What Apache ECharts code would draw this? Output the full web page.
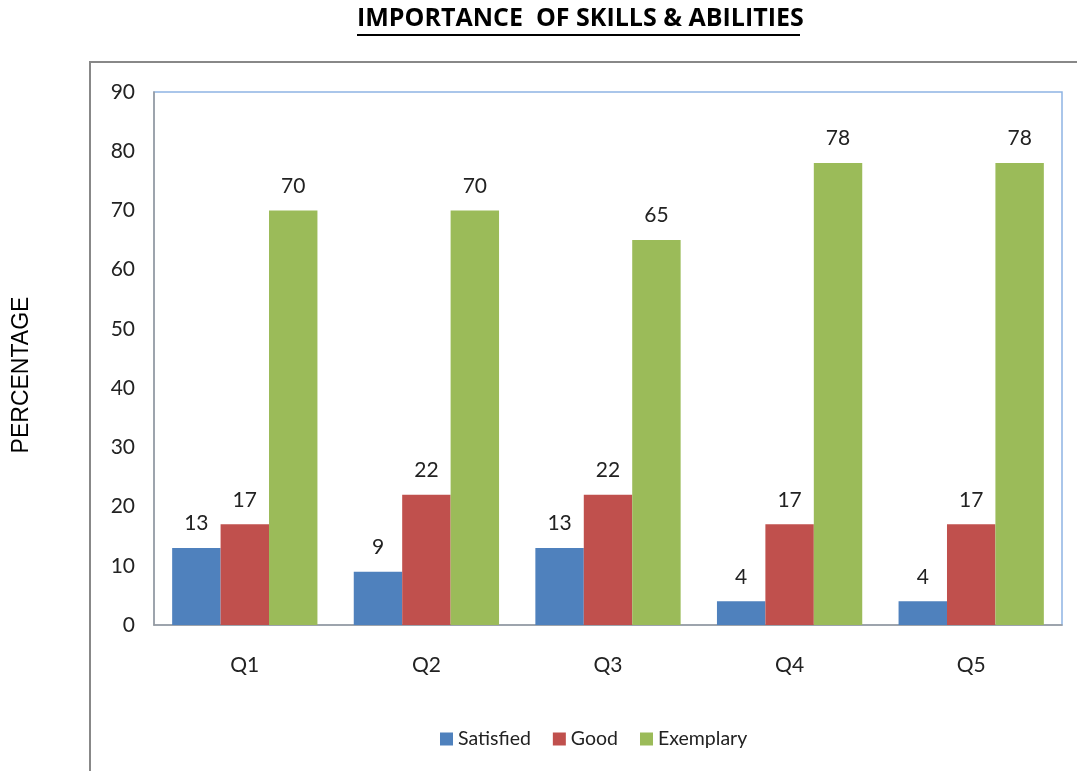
<!DOCTYPE html>
<html><head><meta charset="utf-8">
<script src="https://cdn.jsdelivr.net/npm/echarts@6/dist/echarts.min.js"></script>
<style>html,body{margin:0;padding:0;background:#fff}#c{width:1077px;height:771px}</style>
</head><body><div id="c"></div>
<script>
var categories = ['Q1','Q2','Q3','Q4','Q5'];
var satisfied = [13, 9, 13, 4, 4];
var good = [17, 22, 22, 17, 17];
var exemplary = [70, 70, 65, 78, 78];
var yTicks = {min: 0, max: 90, interval: 10};

var chart = echarts.init(document.getElementById('c'));
var font = 'Lato';
var lbl = {show: true, position: 'top', distance: 14, fontFamily: font, fontSize: 21, color: '#222'};
chart.setOption({
  animation: false,
  backgroundColor: '#fff',
  title: {
    text: 'IMPORTANCE  OF SKILLS & ABILITIES',
    left: 357, top: 6, padding: 0,
    textStyle: {fontFamily: 'Open Sans', fontWeight: 'bold', fontSize: 25, color: '#000'}
  },
  graphic: [
    {type: 'line', shape: {x1: 357, y1: 35, x2: 800, y2: 35}, style: {stroke: '#000', lineWidth: 2}},
    {type: 'polyline', shape: {points: [[90, 771], [90, 62], [1077, 62]]}, style: {stroke: '#888', lineWidth: 2, fill: null}},
    {type: 'text', x: 22, y: 375, rotation: Math.PI / 2,
     style: {text: 'PERCENTAGE', fontFamily: 'Liberation Sans', fontSize: 23, fill: '#000', align: 'center', verticalAlign: 'middle'}}
  ],
  legend: {
    bottom: 17, left: 435, itemWidth: 13, itemHeight: 13, itemGap: 22,
    icon: 'rect',
    textStyle: {fontFamily: font, fontSize: 19.5, color: '#222'},
    data: ['Satisfied', 'Good', 'Exemplary']
  },
  grid: {left: 154, right: 15, top: 92, bottom: 146, show: true, borderColor: '#8EB4E3', borderWidth: 1.5},
  xAxis: {
    type: 'category', data: categories,
    axisLine: {lineStyle: {color: '#999', width: 1.5}},
    axisTick: {show: false},
    axisLabel: {fontFamily: font, fontSize: 21, color: '#222', margin: 30}
  },
  yAxis: {
    type: 'value', min: yTicks.min, max: yTicks.max, interval: yTicks.interval,
    axisLine: {show: true, lineStyle: {color: '#999', width: 1.5}},
    axisTick: {show: false},
    splitLine: {show: false},
    axisLabel: {fontFamily: font, fontSize: 21, color: '#222', margin: 19}
  },
  series: [
    {name: 'Satisfied', type: 'bar', data: satisfied, barGap: '0%', barCategoryGap: '20%', itemStyle: {color: '#4F81BD'}, label: lbl},
    {name: 'Good', type: 'bar', data: good, barGap: '0%', barCategoryGap: '20%', itemStyle: {color: '#C0504D'}, label: lbl},
    {name: 'Exemplary', type: 'bar', data: exemplary, barGap: '0%', barCategoryGap: '20%', itemStyle: {color: '#9BBB59'}, label: lbl}
  ]
});
</script></body></html>
